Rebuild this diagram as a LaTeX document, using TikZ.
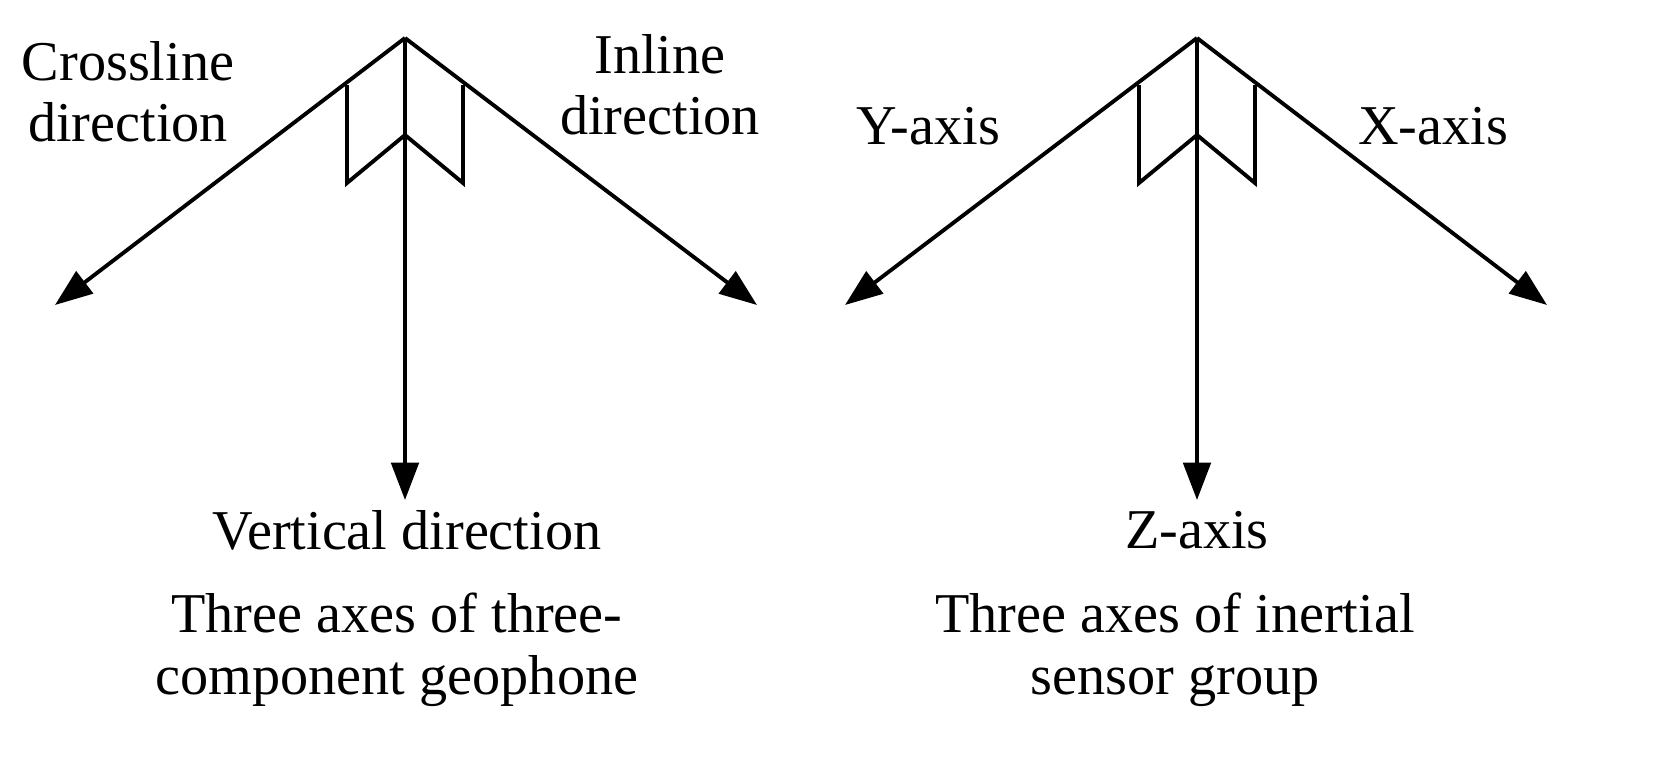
\documentclass[tikz,border=0pt]{standalone}
\usepackage{fontspec}
\setmainfont{Liberation Serif}
\usetikzlibrary{arrows.meta}
\begin{document}
\begin{tikzpicture}[x=0.02cm,y=-0.02cm,
  ax/.style={line width=2.2pt,-{Triangle[length=0.75cm,width=0.55cm]}},
  bx/.style={line width=2.2pt,line join=miter},
  lab/.style={font=\fontsize{32}{35}\selectfont,align=center,inner sep=0pt}]
\useasboundingbox (0,0) rectangle (1668,771);
\foreach \n/\cx/\dl/\dr in {A/405/350/352,B/1197/352/350}{
  \coordinate (\n o) at (\cx,38);
  \coordinate (\n l) at (\cx-\dl,305);
  \coordinate (\n r) at (\cx+\dr,305);
  \coordinate (\n m) at (\cx,135);
  \coordinate (\n d) at (\cx,500);
  \draw[ax] (\n o) -- (\n l);
  \draw[ax] (\n o) -- (\n r);
  \draw[ax] (\n o) -- (\n d);
  \draw[bx] (\cx-58,85) -- (\cx-58,183) -- (\n m) -- (\cx+58,183) -- (\cx+58,85);
}
\node[lab] (c1) at (128,92) {Crossline\\direction};
\node[lab] (c2) at (660,85) {Inline\\direction};
\node[lab] (c3) at (928,126) {Y-axis};
\node[lab] (c4) at (1433,126) {X-axis};
\node[lab] (c5) at (407,530) {Vertical direction};
\node[lab] (c6) at (397,650) {Three axes of three-\\component geophone};
\node[lab] (c7) at (1197,530) {Z-axis};
\node[lab] (c8) at (1175,650) {Three axes of inertial\\sensor group};
\end{tikzpicture}
\end{document}
